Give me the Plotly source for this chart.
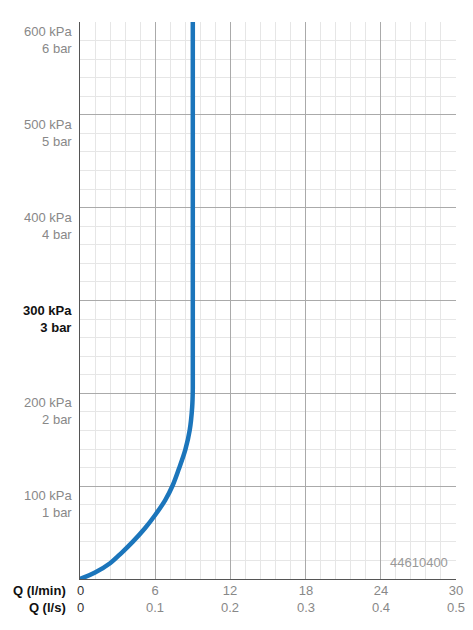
import plotly.graph_objects as go

# flow curve (l/min vs kPa)
flow = [0, 1.2, 2.4, 3.3, 4.2, 5.2, 6.0, 6.8, 7.4, 7.9, 8.4, 8.75, 8.95, 9.0, 9.0]
pressure = [0, 7, 17, 28, 40, 55, 69, 85, 101, 119, 139, 160, 185, 205, 600]

xticks = [0, 6, 12, 18, 24, 30]
xticks_ls = ["0", "0.1", "0.2", "0.3", "0.4", "0.5"]
yticks = [100, 200, 300, 400, 500, 600]

fig = go.Figure()
fig.add_trace(go.Scatter(x=flow, y=pressure, mode="lines", line=dict(color="#1b75bb", width=4.5, shape="spline"),
                         showlegend=False))

grid_minor = "#e6e6e6"
fig.update_xaxes(range=[0, 30], tickvals=xticks, showticklabels=False, showgrid=True, gridcolor="#aaaaaa",
                 gridwidth=1, minor=dict(dtick=1.2, showgrid=True, gridcolor=grid_minor),
                 showline=True, linecolor="#555", zeroline=False, fixedrange=True)
fig.update_yaxes(range=[0, 600], tickvals=yticks, showticklabels=False, showgrid=True, gridcolor="#aaaaaa",
                 minor=dict(dtick=20, showgrid=True, gridcolor=grid_minor),
                 showline=True, linecolor="#555", zeroline=False)

ann = []
for v in yticks:
    bold = v == 300
    col = "#111" if bold else "#888"
    txt = f"{v} kPa<br>{v // 100} bar"
    if bold:
        txt = f"<b>{v} kPa</b><br><b>{v // 100} bar</b>"
    ann.append(dict(x=0, y=v, xref="x", yref="y", text=txt, showarrow=False, xanchor="right", yanchor="top",
                    xshift=-6, align="right", font=dict(size=13, color=col)))
for v, s in zip(xticks, xticks_ls):
    ann.append(dict(x=v, y=0, xref="x", yref="y", text=f"{v}<br>{s}", showarrow=False, yanchor="top", yshift=-2,
                    font=dict(size=13, color="#333" if v == 0 else "#888")))
ann.append(dict(x=0, y=0, xref="x", yref="y", text="<b>Q (l/min)</b><br><b>Q (l/s)</b>", showarrow=False,
                xanchor="right", yanchor="top", xshift=-12, yshift=-2, align="right", font=dict(size=13, color="#111")))
ann.append(dict(x=29.5, y=8, xref="x", yref="y", text="44610400", showarrow=False, xanchor="right", yanchor="bottom",
                font=dict(size=13, color="#999")))

fig.update_layout(width=473, height=630, margin=dict(l=72, r=25, t=14, b=59), plot_bgcolor="white",
                  paper_bgcolor="white", annotations=ann, font=dict(family="Liberation Sans"))
fig.write_html("out.html")
